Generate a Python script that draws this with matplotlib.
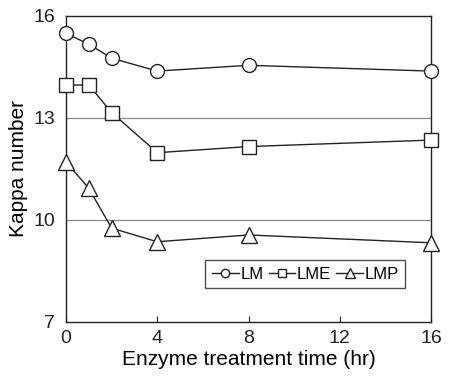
import matplotlib.pyplot as plt

# Kappa number vs enzyme treatment time
time_hr = [0, 1, 2, 4, 8, 16]
lm = [15.49, 15.17, 14.76, 14.38, 14.55, 14.38]
lme = [13.97, 13.97, 13.16, 11.98, 12.16, 12.35]
lmp = [11.71, 10.93, 9.76, 9.36, 9.56, 9.33]

plt.rcParams['font.family'] = ['Liberation Sans', 'DejaVu Sans']

fig = plt.figure(figsize=(4.5, 3.86), dpi=100)
ax = fig.add_axes([66 / 450, 1 - 322 / 386, 365 / 450, 306 / 386])

for y in (10, 13):
    ax.axhline(y, color='#888888', lw=0.9, zorder=1)

kw = dict(color='#222222', lw=1.0, mfc='white', mec='#222222', mew=1.0, zorder=3, clip_on=False)
ax.plot(time_hr, lm, marker='o', ms=10, label='LM', **kw)
ax.plot(time_hr, lme, marker='s', ms=10, label='LME', **kw)
ax.plot(time_hr, lmp, marker='^', ms=11, label='LMP', **kw)

ax.set_xlim(0, 16)
ax.set_ylim(7, 16)
ax.set_xticks([0, 4, 8, 12, 16])
ax.set_yticks([7, 10, 13, 16])
ax.tick_params(axis='x', direction='in', length=4, labelsize=14, pad=6, colors='#222222')
ax.tick_params(axis='y', length=0, labelsize=14, pad=8, colors='#222222')
for s in ax.spines.values():
    s.set_color('#222222')
    s.set_linewidth(1.0)

ax.set_xlabel('Enzyme treatment time (hr)', fontsize=15, labelpad=2)
ax.set_ylabel('Kappa number', fontsize=15, labelpad=4)

leg = ax.legend(loc='lower right', bbox_to_anchor=(0.93, 0.11), ncol=3, fontsize=12,
                frameon=True, fancybox=False, edgecolor='#222222', handlelength=1.6,
                handletextpad=0.1, columnspacing=0.3, markerscale=0.6,
                borderpad=0.4, borderaxespad=0)
leg.get_frame().set_linewidth(1.0)

fig.savefig('out.png', dpi=100)
